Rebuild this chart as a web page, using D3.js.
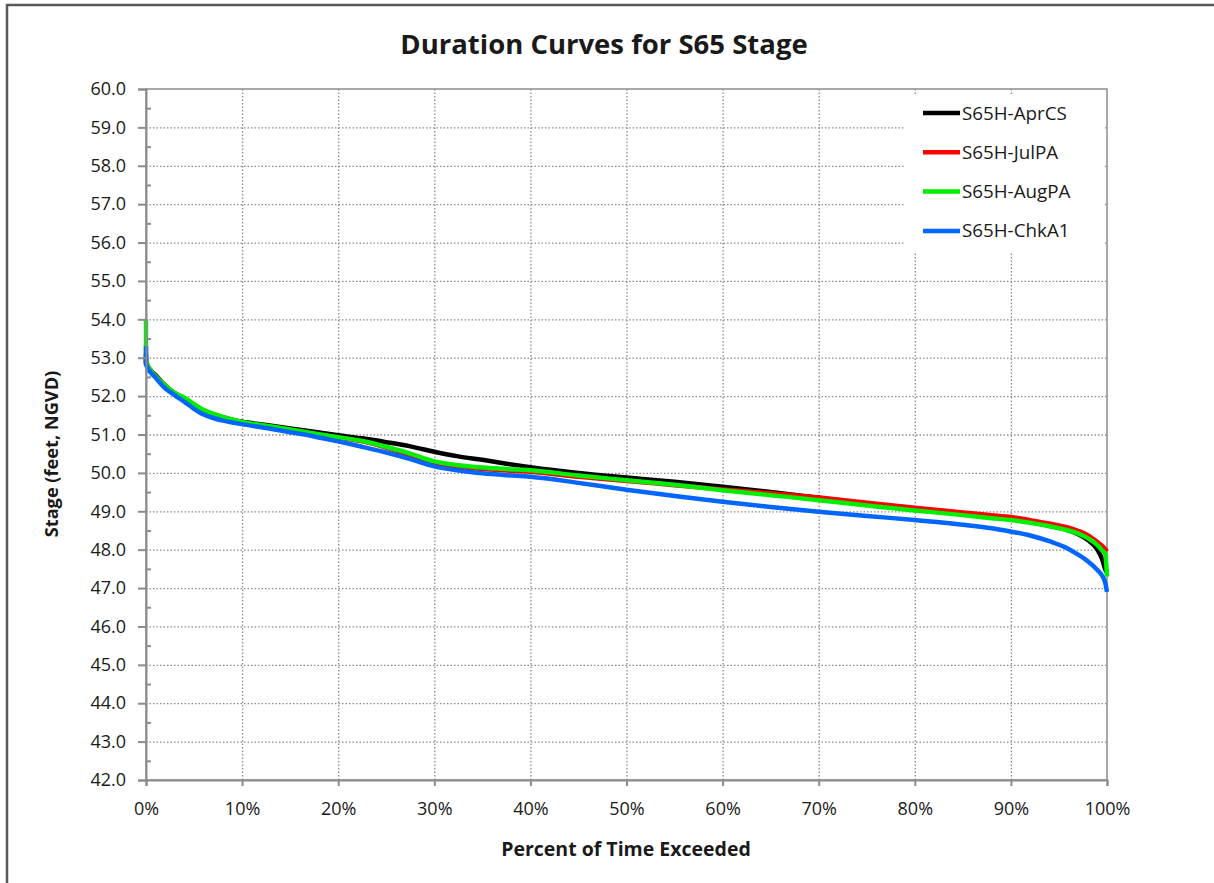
<!DOCTYPE html>
<html>
<head>
<meta charset="utf-8">
<script src="https://cdn.jsdelivr.net/npm/d3@7"></script>
<style>
  body { margin: 0; background: #fff; overflow: hidden; }
  svg text { font-family: "Open Sans", "Noto Sans", sans-serif; fill: #1a1a1a; }
</style>
</head>
<body>
<svg></svg>
<script>
const w = 1214;
const h = 883;
const pLeft = 146, pRight = 1107, pTop = 89, pBottom = 780;

// percent of time exceeded (x positions of the read-off points)
const pct = [0, 0, 1, 2, 3, 4, 5, 6, 7, 8, 10, 12.5, 15, 17.5, 20, 22.5, 25, 27.5, 30, 32.5, 35, 37.5, 40, 45, 50, 55, 60, 65, 70, 75, 80, 85, 88, 90, 92, 94, 96, 97, 98, 99, 99.5, 99.8, 100];

// stage values (feet, NGVD)
const aprCS = [53.1, 52.85, 52.55, 52.27, 52.07, 51.92, 51.74, 51.6, 51.5, 51.43, 51.33, 51.25, 51.16, 51.07, 50.98, 50.9, 50.8, 50.69, 50.55, 50.43, 50.34, 50.24, 50.15, 50.0, 49.88, 49.77, 49.64, 49.5, 49.35, 49.2, 49.07, 48.95, 48.86, 48.8, 48.72, 48.62, 48.5, 48.4, 48.25, 48.0, 47.75, 47.5, 47.4];
const julPA = [53.0, 52.88, 52.53, 52.28, 52.08, 51.95, 51.78, 51.63, 51.53, 51.45, 51.32, 51.22, 51.12, 51.02, 50.92, 50.82, 50.66, 50.45, 50.22, 50.15, 50.1, 50.06, 50.03, 49.9, 49.79, 49.68, 49.57, 49.47, 49.36, 49.22, 49.09, 48.97, 48.9, 48.85, 48.77, 48.68, 48.57, 48.49, 48.38, 48.2, 48.1, 48.02, 47.95];
const augPA = [54.0, 52.9, 52.52, 52.28, 52.08, 51.96, 51.79, 51.64, 51.54, 51.46, 51.33, 51.23, 51.13, 51.03, 50.93, 50.83, 50.68, 50.5, 50.3, 50.2, 50.14, 50.1, 50.07, 49.93, 49.81, 49.69, 49.55, 49.42, 49.29, 49.15, 49.02, 48.9, 48.82, 48.77, 48.7, 48.61, 48.5, 48.42, 48.3, 48.12, 47.98, 47.9, 47.3];
const chkA1 = [53.3, 52.82, 52.48, 52.2, 52.02, 51.85, 51.67, 51.52, 51.43, 51.36, 51.27, 51.17, 51.06, 50.95, 50.82, 50.68, 50.53, 50.36, 50.17, 50.06, 49.99, 49.94, 49.9, 49.74, 49.56, 49.4, 49.25, 49.11, 48.99, 48.88, 48.77, 48.65, 48.56, 48.47, 48.37, 48.22, 48.02, 47.87, 47.7, 47.47, 47.32, 47.15, 46.9];

const seriesNames = ['S65H-AprCS', 'S65H-JulPA', 'S65H-AugPA', 'S65H-ChkA1'];
const seriesColors = ['#000000', '#ff0000', '#00ee00', '#0066ff'];
const seriesValues = [aprCS, julPA, augPA, chkA1];

const yTicks = [42, 43, 44, 45, 46, 47, 48, 49, 50, 51, 52, 53, 54, 55, 56, 57, 58, 59, 60];
const yMinor = [42.5, 43.5, 44.5, 45.5, 46.5, 47.5, 48.5, 49.5, 50.5, 51.5, 52.5, 53.5, 54.5, 55.5, 56.5, 57.5, 58.5, 59.5];
const xTicks = [0, 10, 20, 30, 40, 50, 60, 70, 80, 90, 100];

const svg = d3.select('svg')
    .attr('width', w)
    .attr('height', h);

// outer frame (right and bottom edges fall outside the picture)
svg.append('rect')
    .attr('x', 7).attr('y', 5)
    .attr('width', 1230).attr('height', 890)
    .attr('fill', '#fff')
    .attr('stroke', '#595959')
    .attr('stroke-width', 2.5);

const x = d3.scaleLinear().domain([0, 100]).range([pLeft, pRight]);
const y = d3.scaleLinear().domain([42, 60]).range([pBottom, pTop]);

// gridlines
svg.append('g')
    .attr('class', 'grid')
    .attr('transform', 'translate(' + pLeft + ',0)')
    .call(d3.axisLeft(y).tickValues(yTicks.slice(1, -1)).tickSize(-(pRight - pLeft)).tickFormat(''))
    .call(g => g.select('.domain').remove());
svg.append('g')
    .attr('class', 'grid')
    .attr('transform', 'translate(0,' + pBottom + ')')
    .call(d3.axisBottom(x).tickValues(xTicks.slice(1, -1)).tickSize(-(pBottom - pTop)).tickFormat(''))
    .call(g => g.select('.domain').remove());
svg.selectAll('.grid line')
    .attr('stroke', '#8c8c8c')
    .attr('stroke-width', 1.3)
    .attr('stroke-dasharray', '1.5,2');

// legend background hides the grid behind it
svg.append('rect')
    .attr('x', 905).attr('y', 95)
    .attr('width', 198).attr('height', 157)
    .attr('fill', '#fff');

// plot border
svg.append('rect')
    .attr('x', pLeft).attr('y', pTop)
    .attr('width', pRight - pLeft).attr('height', pBottom - pTop)
    .attr('fill', 'none')
    .attr('stroke', '#8c8c8c')
    .attr('stroke-width', 1.5);

// lines
const line = d3.line()
    .x(d => x(d[0]))
    .y(d => y(d[1]))
    .curve(d3.curveMonotoneX);

seriesValues.forEach((vals, i) => {
    svg.append('path')
        .datum(pct.map((p, j) => [p, vals[j]]))
        .attr('d', line)
        .attr('fill', 'none')
        .attr('stroke', seriesColors[i])
        .attr('stroke-width', 4.5)
        .attr('stroke-linejoin', 'round');
});

// y axis
const yAxis = svg.append('g')
    .attr('transform', 'translate(' + pLeft + ',0)')
    .call(d3.axisLeft(y).tickValues(yTicks).tickSize(8).tickPadding(12).tickFormat(d3.format('.1f')));
svg.append('g')
    .attr('transform', 'translate(' + pLeft + ',0)')
    .call(d3.axisRight(y).tickValues(yMinor).tickSize(5).tickFormat(''))
    .call(g => g.select('.domain').remove());

// x axis
const xAxis = svg.append('g')
    .attr('transform', 'translate(0,' + pBottom + ')')
    .call(d3.axisBottom(x).tickValues(xTicks).tickSize(6).tickPadding(16).tickFormat(d => d + '%'));

svg.selectAll('.domain, .tick line')
    .filter(function() { return !this.closest('.grid'); })
    .attr('stroke', '#8c8c8c')
    .attr('stroke-width', 2);
yAxis.selectAll('text').style('font-size', '18px').attr('fill', '#1a1a1a');
xAxis.selectAll('text').style('font-size', '18px').attr('fill', '#1a1a1a');

// title
svg.append('text')
    .attr('x', 604).attr('y', 54)
    .attr('text-anchor', 'middle')
    .style('font-size', '27.5px')
    .style('font-weight', 'bold')
    .text('Duration Curves for S65 Stage');

// axis titles
svg.append('text')
    .attr('transform', 'translate(58,454) rotate(-90)')
    .attr('text-anchor', 'middle')
    .style('font-size', '18.2px')
    .style('font-weight', 'bold')
    .text('Stage (feet, NGVD)');
svg.append('text')
    .attr('x', 626).attr('y', 856)
    .attr('text-anchor', 'middle')
    .style('font-size', '19.5px')
    .style('font-weight', 'bold')
    .text('Percent of Time Exceeded');

// legend
const legend = svg.append('g');
seriesNames.forEach((name, i) => {
    const ly = 113 + i * 39.3;
    legend.append('line')
        .attr('x1', 923).attr('x2', 960)
        .attr('y1', ly).attr('y2', ly)
        .attr('stroke', seriesColors[i])
        .attr('stroke-width', 4.5);
    legend.append('text')
        .attr('x', 962).attr('y', ly + 6.5)
        .style('font-size', '18.8px')
        .text(name);
});
</script>
</body>
</html>
